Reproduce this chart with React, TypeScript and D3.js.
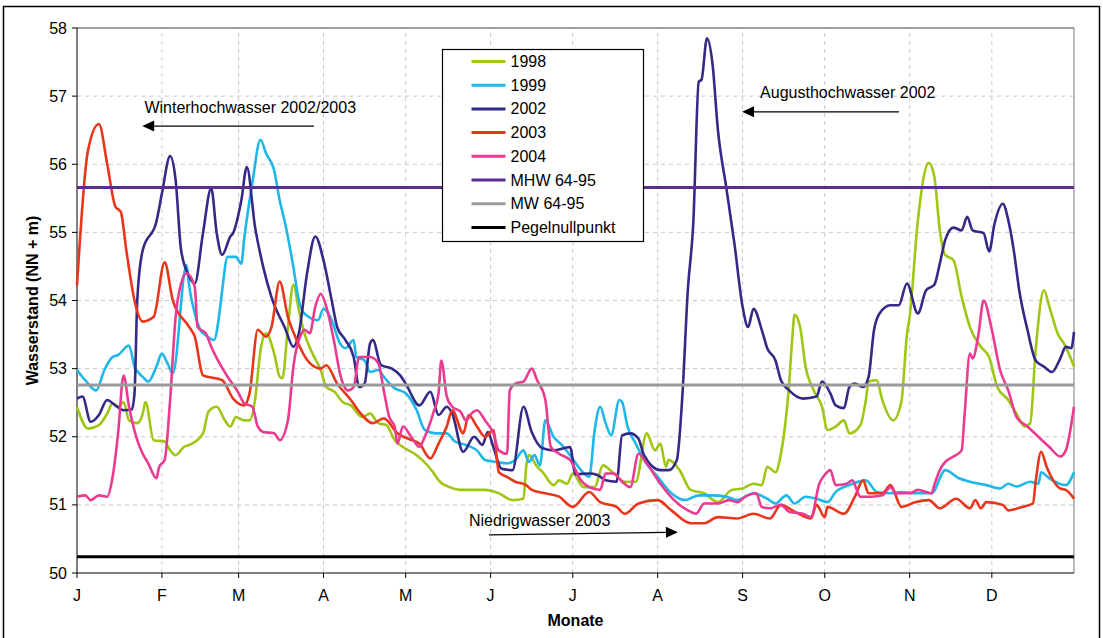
import React from "react";
import * as d3 from "d3";

// Tag im Jahr, an dem der Monat beginnt
const monthStarts = [0, 31, 59, 90, 120, 151, 181, 212, 243, 273, 304, 334];
const monthLabels = ["J", "F", "M", "A", "M", "J", "J", "A", "S", "O", "N", "D"];
const levelTicks = [50, 51, 52, 53, 54, 55, 56, 57, 58];

// [Tag, Wasserstand NN + m]
const w1998 = [[0,52.44],[4,52.12],[8,52.17],[11,52.34],[13,52.49],[15,52.44],[17,52.51],[19,52.24],[22,52.2],[24,52.34],[25,52.51],[28,51.95],[32,51.93],[34,51.8],[36,51.73],[39,51.85],[42,51.9],[46,52.05],[48,52.37],[51,52.44],[54,52.24],[56,52.15],[58,52.29],[61,52.24],[63,52.24],[65,52.54],[67,53.27],[69,53.52],[72,53.22],[74,52.88],[75,52.86],[77,53.61],[79,54.23],[81,53.86],[83,53.52],[86,53.22],[89,52.98],[91,52.73],[94,52.66],[97,52.51],[100,52.46],[104,52.29],[107,52.34],[110,52.2],[113,52.17],[116,51.95],[119,51.85],[124,51.73],[126,51.66],[130,51.48],[132,51.36],[136,51.26],[140,51.22],[144,51.22],[149,51.22],[154,51.17],[159,51.07],[163,51.09],[164,51.56],[165,51.73],[168,51.56],[170,51.48],[174,51.29],[176,51.36],[179,51.31],[181,51.46],[185,51.26],[189,51.26],[192,51.58],[196,51.46],[200,51.34],[204,51.34],[208,52.05],[211,51.8],[213,51.9],[215,51.56],[216,51.66],[220,51.51],[224,51.22],[229,51.17],[234,51.04],[239,51.22],[243,51.24],[247,51.31],[250,51.29],[252,51.56],[255,51.48],[257,51.75],[258,52.0],[260,52.78],[261,53.37],[262,53.79],[264,53.61],[266,53.03],[269,52.68],[272,52.44],[274,52.1],[277,52.15],[280,52.24],[282,52.05],[286,52.17],[288,52.54],[289,52.81],[292,52.83],[294,52.54],[298,52.24],[301,52.52],[303,53.5],[304,53.76],[307,55.18],[311,56.02],[313,55.82],[315,55.03],[317,54.67],[320,54.59],[323,54.05],[326,53.61],[330,53.32],[333,53.17],[336,52.73],[340,52.54],[343,52.34],[346,52.15],[348,52.2],[350,53.27],[353,54.15],[355,53.91],[358,53.52],[361,53.32],[364,53.03]];

const w1999 = [[0,52.98],[3,52.83],[7,52.68],[10,52.98],[13,53.17],[15,53.2],[19,53.34],[21,53.03],[24,52.88],[26,52.81],[29,53.03],[31,53.22],[33,53.08],[35,52.93],[40,54.52],[41,54.2],[43,53.81],[45,53.57],[47,53.49],[50,53.42],[52,53.81],[53,54.15],[55,54.64],[58,54.64],[60,54.54],[61,54.89],[64,55.72],[67,56.36],[69,56.16],[72,55.91],[74,55.47],[76,55.13],[79,54.49],[81,54.0],[83,53.81],[88,53.71],[90,53.88],[93,53.71],[96,53.37],[98,53.3],[101,53.42],[102,53.17],[105,53.12],[107,52.95],[110,52.98],[112,52.88],[116,52.71],[120,52.64],[124,52.39],[127,52.1],[131,52.05],[135,52.05],[138,51.93],[142,51.88],[146,51.8],[149,51.66],[153,51.63],[157,51.61],[160,51.66],[163,51.8],[165,51.63],[167,51.73],[169,51.58],[171,52.24],[174,52.0],[177,51.88],[180,51.73],[184,51.51],[187,51.41],[189,52.1],[191,52.44],[193,52.2],[195,52.02],[198,52.54],[199,52.51],[201,52.15],[204,51.9],[207,51.66],[212,51.41],[217,51.17],[222,51.07],[227,51.14],[232,51.14],[237,51.12],[241,51.07],[247,51.17],[252,51.09],[255,51.02],[259,51.14],[262,51.02],[266,51.12],[270,51.09],[274,51.04],[277,51.19],[282,51.29],[288,51.36],[292,51.19],[297,51.17],[301,51.19],[306,51.17],[312,51.17],[317,51.51],[322,51.39],[326,51.34],[332,51.29],[337,51.24],[340,51.31],[343,51.27],[348,51.34],[351,51.31],[352,51.48],[355,51.39],[361,51.29],[364,51.48]];

const w2002 = [[0,52.56],[2,52.59],[5,52.22],[8,52.32],[11,52.54],[14,52.46],[17,52.39],[20,52.4],[21,52.64],[22,54.0],[24,54.74],[29,55.16],[31,55.57],[34,56.12],[36,55.77],[38,54.74],[41,54.35],[43,54.25],[46,54.99],[49,55.65],[51,54.99],[53,54.67],[56,54.94],[57,54.99],[60,55.47],[62,55.96],[65,55.08],[68,54.49],[71,54.05],[76,53.59],[79,53.32],[81,53.52],[84,54.4],[87,54.94],[90,54.59],[93,54.0],[95,53.61],[98,53.42],[101,53.17],[103,52.73],[105,52.78],[107,53.37],[108,53.42],[111,53.05],[115,53.0],[118,52.9],[120,52.78],[125,52.46],[129,52.66],[132,52.32],[135,52.44],[137,52.34],[141,51.78],[145,52.0],[148,51.88],[150,52.07],[152,51.85],[155,51.53],[159,51.51],[163,52.44],[166,52.07],[170,51.83],[174,51.8],[180,51.85],[182,51.45],[187,51.46],[190,51.44],[193,51.36],[197,51.34],[199,52.02],[202,52.05],[205,51.97],[207,51.73],[213,51.51],[216,51.51],[219,51.66],[221,52.59],[223,54.15],[225,55.13],[227,57.21],[228,57.24],[230,57.85],[232,57.48],[234,56.5],[237,55.67],[240,54.84],[243,53.91],[245,53.61],[247,53.88],[250,53.57],[252,53.3],[255,53.12],[257,52.83],[260,52.68],[265,52.56],[270,52.59],[272,52.81],[275,52.64],[277,52.46],[280,52.42],[282,52.73],[284,52.78],[287,52.73],[289,52.88],[291,53.57],[293,53.81],[297,53.93],[300,53.93],[303,54.25],[307,53.81],[310,54.15],[313,54.23],[315,54.54],[317,54.89],[320,55.07],[323,55.03],[325,55.23],[327,55.03],[331,54.99],[333,54.72],[335,55.13],[338,55.42],[340,55.18],[342,54.74],[344,54.15],[347,53.57],[350,53.12],[353,53.03],[356,52.95],[359,53.15],[361,53.32],[363,53.3],[364,53.54]];

const w2003 = [[0,54.22],[4,56.2],[8,56.59],[11,56.01],[14,55.38],[16,55.3],[18,54.74],[21,54.0],[24,53.69],[28,53.76],[32,54.56],[35,54.0],[41,53.61],[43,53.47],[46,52.9],[53,52.83],[57,52.56],[61,52.46],[63,52.64],[66,53.57],[69,53.47],[71,53.61],[74,54.28],[77,53.76],[80,53.44],[85,53.08],[89,53.0],[91,53.05],[95,52.78],[100,52.54],[103,52.37],[108,52.2],[112,52.27],[117,52.05],[121,51.97],[125,51.9],[129,51.68],[132,51.9],[135,52.15],[137,52.39],[141,52.05],[143,52.32],[146,52.15],[149,52.0],[152,52.1],[154,51.48],[157,51.41],[160,51.34],[164,51.29],[166,51.22],[171,51.17],[176,51.12],[181,50.97],[187,51.19],[191,51.04],[197,50.97],[200,50.87],[205,51.02],[212,51.07],[217,50.92],[224,50.73],[229,50.73],[234,50.82],[241,50.8],[247,50.87],[253,50.8],[257,51.0],[262,50.9],[268,50.8],[270,51.0],[273,50.82],[274,50.97],[280,50.87],[284,51.12],[287,51.36],[289,51.17],[294,51.17],[297,51.29],[301,50.97],[306,51.04],[311,51.07],[315,50.95],[321,51.09],[326,50.95],[328,51.07],[330,50.95],[332,51.04],[338,51.0],[340,50.92],[345,50.97],[349,51.02],[350,51.34],[352,51.78],[354,51.56],[359,51.24],[361,51.22],[364,51.09]];

const w2004 = [[0,51.12],[3,51.14],[5,51.07],[8,51.14],[11,51.12],[13,51.41],[15,52.05],[17,52.9],[19,52.44],[22,51.95],[24,51.75],[26,51.61],[29,51.39],[30,51.56],[32,51.66],[34,52.54],[36,53.76],[38,54.25],[40,54.4],[43,54.2],[44,53.61],[47,53.52],[49,53.32],[52,53.08],[55,52.88],[59,52.64],[61,52.49],[64,52.44],[66,52.15],[68,52.07],[72,52.05],[74,51.95],[77,52.24],[79,53.03],[82,53.52],[83,53.57],[85,53.52],[87,53.91],[89,54.1],[91,53.91],[94,53.37],[96,52.93],[99,52.68],[101,52.73],[103,53.17],[107,53.17],[110,53.08],[112,52.68],[114,52.29],[116,52.15],[117,51.9],[119,52.15],[122,52.0],[125,51.85],[127,52.0],[130,52.34],[132,52.64],[133,53.12],[135,52.59],[137,52.44],[140,52.37],[142,52.24],[144,52.34],[146,52.39],[149,52.24],[152,52.05],[154,51.8],[157,51.75],[158,52.68],[160,52.78],[163,52.81],[166,53.0],[168,52.83],[171,52.54],[173,51.85],[176,51.75],[180,51.66],[184,51.36],[187,51.26],[191,51.22],[193,51.46],[196,51.46],[199,51.34],[202,51.26],[205,51.75],[208,51.61],[213,51.31],[218,51.07],[223,50.92],[226,50.87],[229,51.02],[234,51.02],[238,51.07],[241,51.04],[244,51.12],[248,51.17],[250,50.97],[253,50.95],[257,51.0],[260,50.9],[265,50.87],[268,50.82],[271,51.31],[273,51.44],[275,51.51],[277,51.29],[281,51.31],[283,51.36],[286,51.12],[290,51.12],[294,51.14],[297,51.26],[299,51.17],[304,51.17],[307,51.22],[312,51.17],[313,51.29],[315,51.51],[317,51.63],[320,51.71],[323,51.8],[324,52.29],[326,53.22],[327,53.15],[329,53.47],[331,54.0],[334,53.57],[337,52.98],[340,52.68],[343,52.29],[347,52.15],[351,52.0],[355,51.85],[359,51.71],[361,51.8],[364,52.44]];

// Bezugslinien
const mhw6495 = 55.66;
const mw6495 = 52.76;
const pegelnullpunkt = 50.24;

const yearNames = ["1998", "1999", "2002", "2003", "2004"];
const yearSeries = [w1998, w1999, w2002, w2003, w2004];
const yearColors = ["#a0c614", "#1db7e9", "#332a88", "#e8361b", "#ea3b90"];

const refNames = ["MHW 64-95", "MW 64-95", "Pegelnullpunkt"];
const refLevels = [mhw6495, mw6495, pegelnullpunkt];
const refColors = ["#5b2d8f", "#9a9a9a", "#000000"];

const font = "'Liberation Sans', Arial, sans-serif";

const App = () => {
  const x = d3.scaleLinear().domain([0, 364]).range([77, 1074]);
  const y = d3.scaleLinear().domain([50, 58]).range([573, 28]);

  const line = d3
    .line<number[]>()
    .x(d => x(d[0]))
    .y(d => y(d[1]))
    .curve(d3.curveMonotoneX);

  const arrow = (d0: number, v0: number, d1: number, v1: number) => {
    const x0 = x(d0), y0 = y(v0), x1 = x(d1), y1 = y(v1);
    const a = Math.atan2(y1 - y0, x1 - x0);
    const len = 12, half = 5.5;
    const bx = x1 - len * Math.cos(a), by = y1 - len * Math.sin(a);
    const p1 = [bx + half * Math.sin(a), by - half * Math.cos(a)];
    const p2 = [bx - half * Math.sin(a), by + half * Math.cos(a)];
    return (
      <g>
        <line x1={x0} y1={y0} x2={bx} y2={by} stroke="#000" strokeWidth={1.2} />
        <polygon points={`${x1},${y1} ${p1[0]},${p1[1]} ${p2[0]},${p2[1]}`} fill="#000" />
      </g>
    );
  };

  const legendItems = [
    ...yearNames.map((n, i) => ({ name: n, color: yearColors[i] })),
    ...refNames.map((n, i) => ({ name: n, color: refColors[i] })),
  ];

  return (
    <svg
      width={1103}
      height={638}
      style={{ position: "absolute", left: 0, top: 0, background: "#fff" }}
      fontFamily={font}
    >
      <rect x={3.5} y={6.5} width={1096} height={640} fill="#fff" stroke="#000" strokeWidth={1.5} />

      {/* Gitter */}
      {levelTicks.slice(1, -1).map(t => (
        <line key={"gy" + t} x1={x(0)} x2={x(364)} y1={y(t)} y2={y(t)} stroke="#c8c8c8" strokeDasharray="4,4" />
      ))}
      {monthStarts.slice(1).map(m => (
        <line key={"gx" + m} x1={x(m)} x2={x(m)} y1={y(50)} y2={y(58)} stroke="#c8c8c8" strokeDasharray="4,4" />
      ))}

      {/* Rahmen */}
      <line x1={x(0)} x2={x(364)} y1={y(58)} y2={y(58)} stroke="#444" strokeWidth={1} />
      <line x1={x(364)} x2={x(364)} y1={y(58)} y2={y(50)} stroke="#777" strokeWidth={1} />
      <line x1={x(0)} x2={x(0)} y1={y(58)} y2={y(50)} stroke="#000" strokeWidth={1} />
      <line x1={x(0)} x2={x(364)} y1={y(50)} y2={y(50)} stroke="#000" strokeWidth={1} />

      {/* Achsen */}
      {levelTicks.map(t => (
        <g key={"ty" + t}>
          <line x1={x(0) - 5} x2={x(0)} y1={y(t)} y2={y(t)} stroke="#000" />
          <text x={x(0) - 10} y={y(t) + 5.5} textAnchor="end" fontSize={16}>{t}</text>
        </g>
      ))}
      {monthStarts.map((m, i) => (
        <g key={"tx" + i}>
          <line x1={x(m)} x2={x(m)} y1={y(50)} y2={y(50) + 5} stroke="#000" />
          <text x={x(m)} y={y(50) + 28} textAnchor="middle" fontSize={16}>{monthLabels[i]}</text>
        </g>
      ))}
      <text x={(x(0) + x(364)) / 2} y={626} textAnchor="middle" fontSize={16} fontWeight="bold">Monate</text>
      <text
        transform={`translate(38, ${(y(50) + y(58)) / 2}) rotate(-90)`}
        textAnchor="middle"
        fontSize={16}
        fontWeight="bold"
      >
        Wasserstand (NN + m)
      </text>

      {/* Jahresganglinien */}
      {yearSeries.map((s, i) => (
        <path key={yearNames[i]} d={line(s) || ""} fill="none" stroke={yearColors[i]} strokeWidth={2.6} strokeLinejoin="round" />
      ))}

      {/* Bezugslinien */}
      {refLevels.map((v, i) => (
        <line key={refNames[i]} x1={x(0)} x2={x(364)} y1={y(v)} y2={y(v)} stroke={refColors[i]} strokeWidth={3} />
      ))}

      {/* Hinweise */}
      <text x={x(24.6)} y={y(56.75)} fontSize={16}>Winterhochwasser 2002/2003</text>
      {arrow(86.5, 56.56, 23.8, 56.56)}
      <text x={x(249.4)} y={y(56.97)} fontSize={16}>Augusthochwasser 2002</text>
      {arrow(300.1, 56.77, 242.8, 56.77)}
      <text x={x(143.1)} y={y(50.69)} fontSize={16}>Niedrigwasser 2003</text>
      {arrow(150.4, 50.56, 219.4, 50.6)}

      {/* Legende */}
      <g transform="translate(442.5, 49.5)">
        <rect width={201} height={192} fill="#fff" stroke="#000" strokeWidth={1.2} />
        {legendItems.map((it, i) => (
          <g key={it.name} transform={`translate(0, ${12 + i * 23.7})`}>
            <line x1={29} x2={63} y1={0} y2={0} stroke={it.color} strokeWidth={3} />
            <text x={68} y={5.5} fontSize={16}>{it.name}</text>
          </g>
        ))}
      </g>
    </svg>
  );
};

export default App;
